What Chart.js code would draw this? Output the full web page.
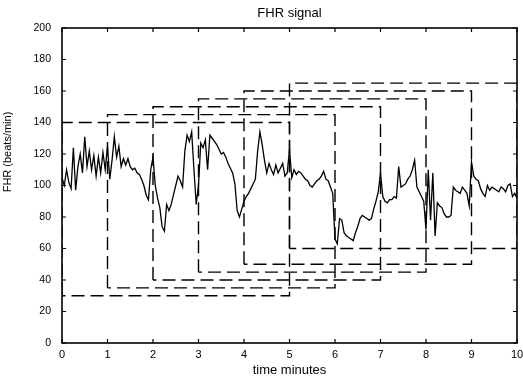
<!DOCTYPE html>
<html>
<head>
<meta charset="utf-8">
<script src="https://cdn.jsdelivr.net/npm/chart.js@4/dist/chart.umd.min.js"></script>
<style>
    html,body { margin:0; padding:0; background:#ffffff; }
    #wrap { width:523px; height:378px; }
</style>
</head>
<body>
<div id="wrap"><canvas id="fhrChart" width="523" height="378"></canvas></div>
<script>
// FHR samples, one every 0.05 minutes (0 .. 10 min)
const sampleStep = 0.05;
const fhrValues = [
    105,100,110,102, 98,124, 97,112,120,108,131,112,122,110,119,106,118,108,121,110,
    125,104,116,131,118,125,112,117,113,117,112,110,111,108,107,104,100, 94, 91,110,
    118,100, 92, 86, 74, 71, 88, 84, 88, 94,100,106,103, 99,122,132,128,134,110, 88,
    100,127,124,129,110,132,130,128,126,123,120,121,118,114,111,108,101, 84, 80, 85,
     90, 93, 95, 98,101,104,122,134,126,116,108,114,110,107,113,108,111,114,106,108,
    123,105,110,107,109,108,106,104,103,100, 99,101,103,104,106,109,104,103, 99, 95,
     66, 63, 79, 78, 70, 68, 67, 66, 65, 70, 74, 79, 81, 80, 79, 78, 79, 85, 90, 96,
    108, 93, 90, 89, 91, 91, 93, 92,112, 99,100,101,104,106,110,116, 99, 96, 93, 90,
     72,110, 78,108, 68, 89, 87, 86, 82, 80, 80, 81, 99, 97, 96, 95, 99, 97, 95, 87,
    115,106,104,103, 98, 95, 93,100, 97, 99, 98, 97, 96, 99, 98, 96,100,101, 93, 95,
     92
];

// analysis windows (dashed boxes)
const winStart  = [0, 1, 2, 3, 4, 5];
const winEnd    = [5, 6, 7, 8, 9, 10];
const winTop    = [140, 145, 150, 155, 160, 165];
const winBottom = [30, 35, 40, 45, 50, 60];

const xTicks = [0,1,2,3,4,5,6,7,8,9,10];
const yTicks = [0,20,40,60,80,100,120,140,160,180,200];

const titleText = 'FHR signal';
const xTitleText = 'time minutes';
const yTitleText = 'FHR (beats/min)';

document.addEventListener('DOMContentLoaded',() =>
{
    const signalPoints = fhrValues.map((v,i) => ({ x: i * sampleStep, y: v }));

    const windowSets = winStart.map((x0,i) => ({
        data: [
            { x: x0, y: winBottom[i] },
            { x: x0, y: winTop[i] },
            { x: winEnd[i], y: winTop[i] },
            { x: winEnd[i], y: winBottom[i] },
            { x: x0, y: winBottom[i] }
        ],
        borderColor: '#000000',
        borderWidth: 1.4,
        borderDash: [13,6],
        pointRadius: 0,
        fill: false,
        tension: 0
    }));

    // frame, inward ticks and text, matlab style
    const framePlugin = {
        id: 'frame',
        afterDraw(chart)
        {
            const { ctx, chartArea: a, scales: { x, y } } = chart;
            ctx.save();
            ctx.strokeStyle = '#000000';
            ctx.lineWidth = 1.6;
            ctx.strokeRect(a.left,a.top,a.right - a.left,a.bottom - a.top);
            ctx.lineWidth = 1.2;
            ctx.beginPath();
            xTicks.forEach(t =>
            {
                const px = x.getPixelForValue(t);
                ctx.moveTo(px,a.bottom); ctx.lineTo(px,a.bottom - 4);
                ctx.moveTo(px,a.top); ctx.lineTo(px,a.top + 4);
            });
            yTicks.forEach(t =>
            {
                const py = y.getPixelForValue(t);
                ctx.moveTo(a.left,py); ctx.lineTo(a.left + 4,py);
                ctx.moveTo(a.right,py); ctx.lineTo(a.right - 4,py);
            });
            ctx.stroke();

            ctx.fillStyle = '#000000';
            ctx.textAlign = 'center';
            ctx.textBaseline = 'middle';
            ctx.font = '13px "Liberation Sans", Arial, sans-serif';
            ctx.fillText(titleText,(a.left + a.right) / 2,13);
            ctx.fillText(xTitleText,(a.left + a.right) / 2,370);
            ctx.font = '11px "Liberation Sans", Arial, sans-serif';
            ctx.translate(8,152);
            ctx.rotate(-Math.PI / 2);
            ctx.fillText(yTitleText,0,0);
            ctx.restore();
        }
    };

    const ctx = document.getElementById('fhrChart').getContext('2d');
    new Chart(ctx,{
        type: 'line',
        data: {
            datasets: [
                {
                    data: signalPoints,
                    borderColor: '#000000',
                    borderWidth: 1.3,
                    pointRadius: 0,
                    fill: false,
                    tension: 0
                },
                ...windowSets
            ]
        },
        options: {
            responsive: false,
            animation: false,
            layout: { padding: { top: 28, right: 0, left: 0, bottom: 0 } },
            scales: {
                x: {
                    type: 'linear',
                    min: 0,
                    max: 10,
                    afterFit: s =>
                    {
                        s.height = 35;
                        s.paddingLeft = 0;
                        s.paddingRight = 6;
                    },
                    afterBuildTicks: s => { s.ticks = xTicks.map(v => ({ value: v })); },
                    grid: { display: false, drawTicks: false },
                    border: { display: false },
                    ticks: {
                        color: '#000000',
                        padding: 5,
                        maxRotation: 0,
                        font: { family: '"Liberation Sans", Arial, sans-serif', size: 11 }
                    }
                },
                y: {
                    min: 0,
                    max: 200,
                    afterFit: s => { s.width = 62; },
                    afterBuildTicks: s => { s.ticks = yTicks.map(v => ({ value: v })); },
                    grid: { display: false, drawTicks: false },
                    border: { display: false },
                    ticks: {
                        color: '#000000',
                        padding: 11,
                        font: { family: '"Liberation Sans", Arial, sans-serif', size: 10.5 }
                    }
                }
            },
            plugins: {
                legend: { display: false },
                tooltip: { enabled: false }
            }
        },
        plugins: [framePlugin]
    });
});
</script>
</body>
</html>
